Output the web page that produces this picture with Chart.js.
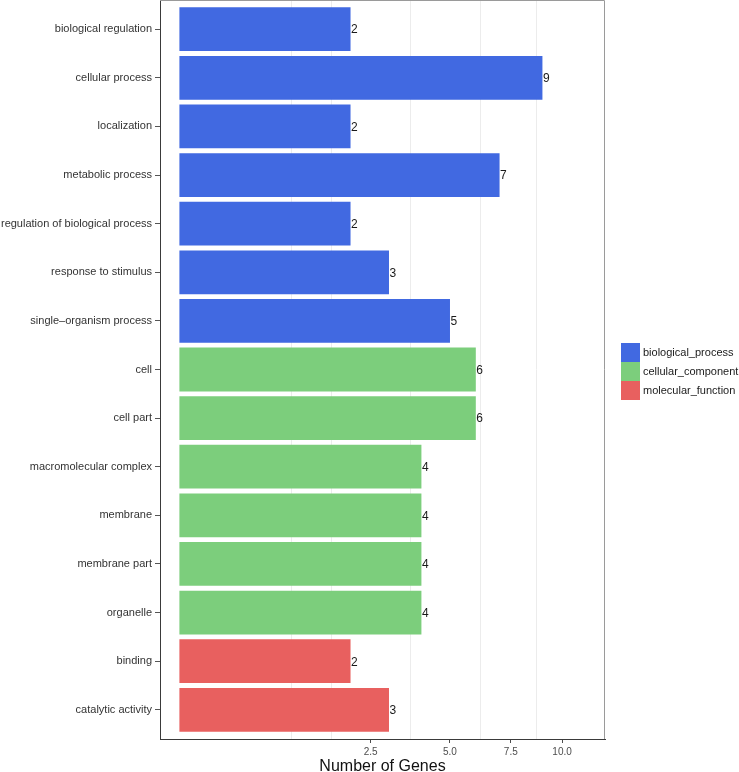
<!DOCTYPE html>
<html>
<head>
<meta charset="utf-8">
<script src="https://cdn.jsdelivr.net/npm/chart.js@4.4.1/dist/chart.umd.min.js"></script>
<style>
  html, body { margin: 0; padding: 0; background: #ffffff; }
  #c { display: block; }
</style>
</head>
<body>
<canvas id="c" width="739" height="772"></canvas>
<script>
// ---- data ----
const categories = [
  "biological regulation", "cellular process", "localization", "metabolic process",
  "regulation of biological process", "response to stimulus", "single\u2013organism process",
  "cell", "cell part", "macromolecular complex", "membrane", "membrane part", "organelle",
  "binding", "catalytic activity"
];
const groupNames = ["biological_process", "cellular_component", "molecular_function"];
const geneCounts = [2, 9, 2, 7, 2, 3, 5, 6, 6, 4, 4, 4, 4, 2, 3];
const categoryGroup = [0, 0, 0, 0, 0, 0, 0, 1, 1, 1, 1, 1, 1, 2, 2];
const groupColors = ["#4169E1", "#7CCE7C", "#E8605F"];
const majorTicks = [2.5, 5.0, 7.5, 10.0];
const majorTickLabels = ["2.5", "5.0", "7.5", "10.0"];
const minorTicks = [0.865, 1.5725, 3.643, 6.187, 8.708];
const xTitle = "Number of Genes";

// ---- sqrt scale ----
const ssqrt = v => (v < 0 ? -Math.sqrt(-v) : Math.sqrt(v));
const ssq = t => (t < 0 ? -t * t : t * t);
class SqrtScale extends Chart.LinearScale {
  getPixelForValue(value) {
    const a = ssqrt(this.min), b = ssqrt(this.max);
    return this.getPixelForDecimal((ssqrt(value) - a) / (b - a));
  }
  getValueForPixel(pixel) {
    const a = ssqrt(this.min), b = ssqrt(this.max);
    return ssq(a + this.getDecimalForPixel(pixel) * (b - a));
  }
}
SqrtScale.id = 'sqrt';
SqrtScale.defaults = Chart.LinearScale.defaults;
Chart.register(SqrtScale);

const FONT = "'Liberation Sans', Arial, Helvetica, sans-serif";

// ---- datasets built from arrays ----
const datasets = groupNames.map((g, gi) => ({
  label: g,
  backgroundColor: groupColors[gi],
  borderWidth: 0,
  grouped: false,
  barPercentage: 0.9,
  categoryPercentage: 1.0,
  data: categories
    .map((c, i) => ({ x: geneCounts[i], y: i + 1, grp: categoryGroup[i] }))
    .filter(d => d.grp === gi)
}));

const allXTicks = [...minorTicks, ...majorTicks].sort((a, b) => a - b);
const isMajor = v => majorTicks.some(m => Math.abs(m - v) < 1e-9);

const valueLabels = {
  id: 'valueLabels',
  afterDatasetsDraw(chart) {
    const ctx = chart.ctx;
    ctx.save();
    ctx.font = "12px " + FONT;
    ctx.fillStyle = "#1a1a1a";
    ctx.textAlign = "left";
    ctx.textBaseline = "middle";
    chart.data.datasets.forEach((ds, di) => {
      const meta = chart.getDatasetMeta(di);
      meta.data.forEach((el, j) => {
        ctx.fillText(String(ds.data[j].x), el.x + 0.5, el.y + 1);
      });
    });
    ctx.restore();
  }
};

const panelBorder = {
  id: 'panelBorder',
  beforeDatasetsDraw(chart) {
    const { ctx, chartArea: a } = chart;
    ctx.save();
    ctx.strokeStyle = "#9a9a9a";
    ctx.lineWidth = 1;
    ctx.beginPath();
    ctx.moveTo(a.left, a.top + 0.5);
    ctx.lineTo(a.right - 0.5, a.top + 0.5);
    ctx.lineTo(a.right - 0.5, a.bottom);
    ctx.stroke();
    ctx.restore();
  }
};

const sideLegend = {
  id: 'sideLegend',
  afterDraw(chart) {
    const { ctx, chartArea: a } = chart;
    const box = 19;
    const n = chart.data.datasets.length;
    const x0 = a.right + 16;
    const y0 = Math.round((a.top + a.bottom) / 2 - (n * box) / 2 + 2);
    ctx.save();
    ctx.font = "11px " + FONT;
    ctx.textAlign = "left";
    ctx.textBaseline = "middle";
    chart.data.datasets.forEach((ds, i) => {
      ctx.fillStyle = ds.backgroundColor;
      ctx.fillRect(x0, y0 + i * box, box, box);
      ctx.fillStyle = "#1a1a1a";
      ctx.fillText(ds.label, x0 + box + 3, y0 + i * box + box / 2);
    });
    ctx.restore();
  }
};

new Chart(document.getElementById('c'), {
  type: 'bar',
  data: { datasets },
  plugins: [panelBorder, valueLabels, sideLegend],
  options: {
    indexAxis: 'y',
    responsive: false,
    animation: false,
    layout: { padding: { top: 0, right: 134, bottom: 0, left: 0 } },
    plugins: {
      legend: { display: false },
      tooltip: { enabled: false },
      title: { display: false }
    },
    scales: {
      x: {
        type: 'sqrt',
        min: -0.0257,
        max: 12.37,
        bounds: 'data',
        offset: false,
        afterBuildTicks(scale) {
          scale.ticks = allXTicks.map(v => ({ value: v }));
        },
        afterFit(scale) {
          scale.height = 33;
          scale.paddingLeft = 0;
          scale.paddingRight = 0;
        },
        ticks: {
          autoSkip: false,
          maxRotation: 0,
          padding: 3,
          color: "#4d4d4d",
          font: { family: FONT, size: 10 },
          callback(v) {
            const k = majorTicks.findIndex(m => Math.abs(m - v) < 1e-9);
            return k >= 0 ? majorTickLabels[k] : '';
          }
        },
        grid: {
          offset: false,
          drawOnChartArea: true,
          drawTicks: true,
          tickLength: 4,
          lineWidth: 1,
          color: ctx => (ctx.tick && !isMajor(ctx.tick.value) ? "#ececec" : "rgba(0,0,0,0)"),
          tickColor: ctx => (ctx.tick && isMajor(ctx.tick.value) ? "#4d4d4d" : "rgba(0,0,0,0)")
        },
        border: { display: true, color: "#3a3a3a", width: 1 },
        title: {
          display: true,
          text: xTitle,
          color: "#111111",
          font: { family: FONT, size: 16, lineHeight: 1.0 },
          padding: { top: 0, bottom: -3 }
        }
      },
      y: {
        type: 'linear',
        reverse: true,
        min: 0.4,
        max: 15.6,
        bounds: 'data',
        offset: false,
        afterBuildTicks(scale) {
          scale.ticks = categories.map((c, i) => ({ value: i + 1 }));
        },
        afterFit(scale) {
          scale.width = 160;
          scale.paddingTop = 0;
          scale.paddingBottom = 0;
        },
        ticks: {
          autoSkip: false,
          padding: 3,
          color: "#333333",
          font: { family: FONT, size: 11 },
          callback(v) { return categories[Math.round(v) - 1] || ''; }
        },
        grid: {
          offset: false,
          drawOnChartArea: false,
          drawTicks: true,
          tickLength: 5,
          tickColor: "#555555"
        },
        border: { display: true, color: "#3a3a3a", width: 1 }
      }
    }
  }
});
</script>
</body>
</html>
